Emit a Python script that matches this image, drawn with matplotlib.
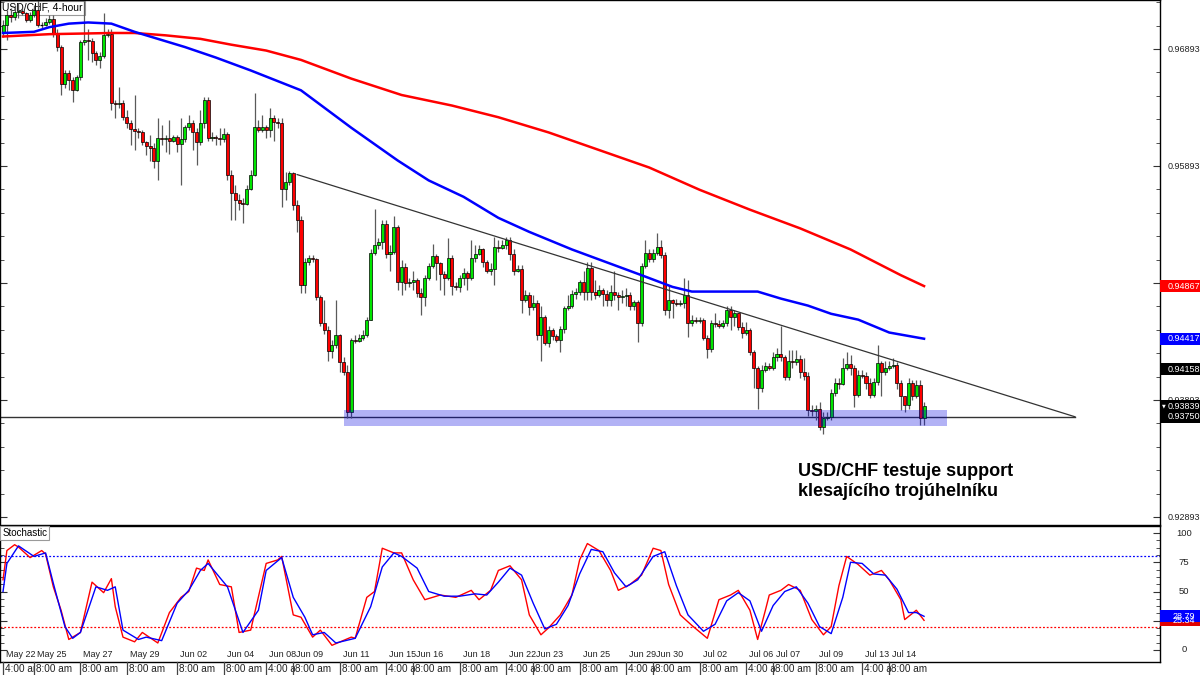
import matplotlib
matplotlib.use("Agg")
import matplotlib.pyplot as plt
import matplotlib.transforms as mtransforms
from matplotlib.patches import Rectangle
import numpy as np

plt.rcParams['font.family'] = ['Liberation Sans', 'DejaVu Sans']

# USD/CHF 4h candles (open of each bar = previous close)
first_open = 0.9704
closes = [0.9710, 0.9718, 0.9717, 0.9721, 0.9722, 0.9720, 0.9714, 0.9718, 0.9723, 0.9710,
          0.9710, 0.9712, 0.9715, 0.9703, 0.9691, 0.9659, 0.9669, 0.9663, 0.9654, 0.9665,
          0.9695, 0.9697, 0.9696, 0.9686, 0.9680, 0.9683, 0.9701, 0.9702, 0.9643, 0.9642,
          0.9643, 0.9631, 0.9626, 0.9621, 0.9619, 0.9618, 0.9610, 0.9606, 0.9605, 0.9594,
          0.9613, 0.9612, 0.9613, 0.9611, 0.9614, 0.9608, 0.9612, 0.9623, 0.9626, 0.9618,
          0.9610, 0.9626, 0.9646, 0.9613, 0.9614, 0.9613, 0.9612, 0.9617, 0.9582, 0.9566,
          0.9560, 0.9558, 0.9557, 0.9570, 0.9582, 0.9623, 0.9620, 0.9623, 0.9620, 0.9630,
          0.9627, 0.9626, 0.9570, 0.9576, 0.9583, 0.9556, 0.9543, 0.9488, 0.9507, 0.9511,
          0.9510, 0.9477, 0.9455, 0.9449, 0.9431, 0.9436, 0.9445, 0.9422, 0.9413, 0.9379,
          0.9441, 0.9440, 0.9442, 0.9445, 0.9458, 0.9515, 0.9522, 0.9524, 0.9540, 0.9514,
          0.9516, 0.9537, 0.9490, 0.9503, 0.9489, 0.9490, 0.9492, 0.9481, 0.9477, 0.9494,
          0.9504, 0.9512, 0.9506, 0.9497, 0.9494, 0.9511, 0.9487, 0.9486, 0.9494, 0.9498,
          0.9494, 0.9511, 0.9514, 0.9518, 0.9507, 0.9500, 0.9501, 0.9520, 0.9519, 0.9522,
          0.9526, 0.9514, 0.9500, 0.9501, 0.9475, 0.9479, 0.9469, 0.9472, 0.9445, 0.9460,
          0.9438, 0.9449, 0.9444, 0.9441, 0.9450, 0.9468, 0.9470, 0.9480, 0.9482, 0.9490,
          0.9482, 0.9502, 0.9482, 0.9479, 0.9483, 0.9480, 0.9475, 0.9482, 0.9479, 0.9477,
          0.9478, 0.9479, 0.9470, 0.9473, 0.9455, 0.9504, 0.9515, 0.9510, 0.9515, 0.9520,
          0.9513, 0.9466, 0.9475, 0.9472, 0.9471, 0.9472, 0.9479, 0.9455, 0.9458, 0.9457,
          0.9458, 0.9442, 0.9433, 0.9455, 0.9454, 0.9453, 0.9455, 0.9466, 0.9460, 0.9464,
          0.9452, 0.9447, 0.9449, 0.9430, 0.9417, 0.9400, 0.9415, 0.9418, 0.9417, 0.9426,
          0.9429, 0.9426, 0.9409, 0.9423, 0.9422, 0.9424, 0.9413, 0.9410, 0.9381, 0.9380,
          0.9382, 0.9366, 0.9374, 0.9375, 0.9395, 0.9404, 0.9403, 0.9417, 0.9420, 0.9417,
          0.9394, 0.9411, 0.9410, 0.9404, 0.9394, 0.9405, 0.9421, 0.9413, 0.9417, 0.9418,
          0.9419, 0.9404, 0.9393, 0.9385, 0.9404, 0.9393, 0.9402, 0.9374, 0.9384]
highs = [0.9714, 0.9723, 0.9724, 0.9727, 0.9729, 0.9724, 0.9721, 0.9721, 0.9727, 0.9731,
         0.9712, 0.9716, 0.9718, 0.9718, 0.9706, 0.9693, 0.9671, 0.9671, 0.9665, 0.9667,
         0.9697, 0.9730, 0.9706, 0.9699, 0.9688, 0.9687, 0.9720, 0.9706, 0.9706, 0.9646,
         0.9657, 0.9646, 0.9637, 0.9629, 0.9650, 0.9622, 0.9620, 0.9611, 0.9616, 0.9609,
         0.9630, 0.9624, 0.9616, 0.9629, 0.9616, 0.9616, 0.9630, 0.9624, 0.9633, 0.9629,
         0.9622, 0.9637, 0.9648, 0.9648, 0.9618, 0.9616, 0.9622, 0.9622, 0.9618, 0.9586,
         0.9573, 0.9565, 0.9562, 0.9573, 0.9586, 0.9652, 0.9629, 0.9633, 0.9624, 0.9639,
         0.9633, 0.9630, 0.9630, 0.9584, 0.9585, 0.9584, 0.9560, 0.9547, 0.9511, 0.9513,
         0.9513, 0.9511, 0.9479, 0.9475, 0.9453, 0.9441, 0.9475, 0.9446, 0.9426, 0.9419,
         0.9442, 0.9445, 0.9446, 0.9449, 0.9460, 0.9518, 0.9553, 0.9528, 0.9543, 0.9543,
         0.9522, 0.9547, 0.9539, 0.9509, 0.9506, 0.9494, 0.9500, 0.9494, 0.9485, 0.9496,
         0.9506, 0.9523, 0.9514, 0.9507, 0.9500, 0.9528, 0.9513, 0.9490, 0.9496, 0.9502,
         0.9500, 0.9526, 0.9522, 0.9522, 0.9519, 0.9509, 0.9506, 0.9529, 0.9526, 0.9526,
         0.9529, 0.9529, 0.9518, 0.9505, 0.9505, 0.9483, 0.9482, 0.9479, 0.9475, 0.9470,
         0.9462, 0.9453, 0.9451, 0.9446, 0.9453, 0.9470, 0.9479, 0.9483, 0.9485, 0.9492,
         0.9500, 0.9507, 0.9507, 0.9492, 0.9488, 0.9485, 0.9483, 0.9488, 0.9500, 0.9482,
         0.9483, 0.9485, 0.9482, 0.9475, 0.9475, 0.9506, 0.9526, 0.9518, 0.9518, 0.9532,
         0.9526, 0.9516, 0.9488, 0.9476, 0.9476, 0.9475, 0.9494, 0.9492, 0.9462, 0.9460,
         0.9460, 0.9459, 0.9445, 0.9458, 0.9464, 0.9458, 0.9458, 0.9470, 0.9470, 0.9466,
         0.9464, 0.9456, 0.9456, 0.9451, 0.9432, 0.9418, 0.9419, 0.9422, 0.9421, 0.9430,
         0.9434, 0.9453, 0.9428, 0.9432, 0.9432, 0.9432, 0.9428, 0.9425, 0.9413, 0.9385,
         0.9385, 0.9388, 0.9379, 0.9379, 0.9399, 0.9408, 0.9408, 0.9425, 0.9430, 0.9428,
         0.9419, 0.9415, 0.9415, 0.9413, 0.9408, 0.9408, 0.9436, 0.9423, 0.9423, 0.9423,
         0.9425, 0.9422, 0.9406, 0.9393, 0.9408, 0.9406, 0.9406, 0.9406, 0.9388]
lows = [0.9700, 0.9697, 0.9712, 0.9714, 0.9716, 0.9718, 0.9712, 0.9712, 0.9717, 0.9708,
        0.9707, 0.9709, 0.9711, 0.9700, 0.9688, 0.9650, 0.9656, 0.9654, 0.9644, 0.9653,
        0.9663, 0.9693, 0.9680, 0.9678, 0.9676, 0.9673, 0.9682, 0.9700, 0.9637, 0.9630,
        0.9639, 0.9629, 0.9622, 0.9607, 0.9603, 0.9613, 0.9607, 0.9599, 0.9594, 0.9588,
        0.9577, 0.9607, 0.9601, 0.9600, 0.9610, 0.9601, 0.9573, 0.9610, 0.9620, 0.9603,
        0.9590, 0.9607, 0.9622, 0.9611, 0.9611, 0.9607, 0.9607, 0.9610, 0.9577, 0.9543,
        0.9543, 0.9552, 0.9541, 0.9556, 0.9569, 0.9581, 0.9618, 0.9618, 0.9613, 0.9614,
        0.9611, 0.9622, 0.9554, 0.9560, 0.9573, 0.9552, 0.9533, 0.9481, 0.9481, 0.9505,
        0.9507, 0.9475, 0.9453, 0.9446, 0.9423, 0.9425, 0.9434, 0.9413, 0.9411, 0.9374,
        0.9374, 0.9438, 0.9439, 0.9441, 0.9443, 0.9458, 0.9513, 0.9518, 0.9518, 0.9511,
        0.9500, 0.9514, 0.9483, 0.9479, 0.9483, 0.9486, 0.9483, 0.9477, 0.9462, 0.9470,
        0.9492, 0.9502, 0.9492, 0.9483, 0.9479, 0.9492, 0.9479, 0.9483, 0.9482, 0.9488,
        0.9483, 0.9492, 0.9507, 0.9513, 0.9503, 0.9498, 0.9496, 0.9488, 0.9516, 0.9518,
        0.9518, 0.9509, 0.9496, 0.9499, 0.9464, 0.9473, 0.9462, 0.9466, 0.9441, 0.9423,
        0.9436, 0.9435, 0.9441, 0.9439, 0.9430, 0.9447, 0.9466, 0.9468, 0.9476, 0.9479,
        0.9475, 0.9475, 0.9475, 0.9476, 0.9477, 0.9470, 0.9470, 0.9470, 0.9475, 0.9466,
        0.9472, 0.9470, 0.9466, 0.9466, 0.9439, 0.9453, 0.9502, 0.9507, 0.9507, 0.9513,
        0.9511, 0.9462, 0.9459, 0.9459, 0.9470, 0.9470, 0.9468, 0.9443, 0.9453, 0.9455,
        0.9455, 0.9441, 0.9425, 0.9430, 0.9452, 0.9451, 0.9451, 0.9453, 0.9449, 0.9453,
        0.9449, 0.9442, 0.9445, 0.9428, 0.9400, 0.9382, 0.9396, 0.9413, 0.9415, 0.9415,
        0.9423, 0.9423, 0.9406, 0.9406, 0.9417, 0.9419, 0.9408, 0.9406, 0.9376, 0.9376,
        0.9372, 0.9364, 0.9360, 0.9372, 0.9372, 0.9393, 0.9399, 0.9402, 0.9415, 0.9411,
        0.9383, 0.9392, 0.9408, 0.9399, 0.9391, 0.9392, 0.9402, 0.9393, 0.9411, 0.9415,
        0.9417, 0.9399, 0.9381, 0.9379, 0.9382, 0.9389, 0.9391, 0.9368, 0.9368]

# moving averages (red = slow, blue = fast), sampled at candle indices
ma_red_idx = [0, 12, 28, 34, 42, 51, 59, 68, 77, 90, 103, 116, 128, 141, 154, 167, 180, 193, 206, 219, 232, 238]
ma_red = [0.9700, 0.9702, 0.9703, 0.9703, 0.9701, 0.9698, 0.9693, 0.9688, 0.9680, 0.9664, 0.9650,
          0.9641, 0.9631, 0.9618, 0.9603, 0.9588, 0.9569, 0.9552, 0.9536, 0.9518, 0.9496, 0.94867]
ma_blue_idx = [0, 8, 12, 17, 22, 28, 34, 38, 47, 55, 64, 77, 90, 102, 110, 119, 128, 136, 147, 156,
               165, 173, 178, 182, 190, 195, 201, 208, 214, 221, 229, 238]
ma_blue = [0.9703, 0.9704, 0.9708, 0.9711, 0.9712, 0.9711, 0.9704, 0.9700, 0.9691, 0.9682, 0.9671,
           0.9654, 0.9622, 0.9594, 0.9577, 0.9563, 0.9545, 0.9533, 0.9518, 0.9507, 0.9496, 0.9486,
           0.9482, 0.9482, 0.9482, 0.9482, 0.9476, 0.9470, 0.9463, 0.9458, 0.9447, 0.94417]

# descending triangle
trend_idx = [76, 277]
trend_px = [0.9582, 0.9375]
support = 0.9375
support_end = 277
zone_idx = [88, 244]
zone_px = [0.9367, 0.9381]

# stochastic
k_idx = [0, 1, 3, 4, 7, 10, 11, 13, 15, 17, 20, 23, 26, 28, 29, 31, 34, 36, 40, 43,
         46, 48, 50, 52, 53, 56, 59, 61, 64, 68, 71, 72, 75, 77, 80, 82, 85, 90, 91, 94,
         96, 98, 101, 103, 106, 109, 113, 117, 121, 123, 126, 128, 131, 134, 136, 139, 141, 144, 147, 149,
         151, 154, 157, 159, 162, 165, 168, 170, 172, 175, 178, 182, 183, 185, 188, 190, 193, 195, 197, 198,
         201, 203, 206, 209, 212, 214, 216, 218, 221, 224, 227, 229, 232, 233, 236, 238]
k_val = [60, 85, 90, 88, 79, 85, 82, 54, 34, 9, 15, 58, 49, 61, 37, 11, 7, 15, 6, 32,
         45, 50, 70, 68, 77, 56, 54, 15, 17, 74, 77, 80, 30, 28, 11, 17, 4, 11, 10, 45,
         50, 87, 83, 83, 60, 43, 47, 45, 51, 43, 51, 68, 72, 60, 30, 13, 19, 30, 47, 77,
         91, 85, 68, 51, 56, 64, 87, 85, 56, 30, 21, 10, 21, 43, 47, 51, 34, 9, 34, 47,
         51, 56, 51, 26, 13, 20, 55, 80, 73, 64, 68, 60, 43, 26, 34, 25.34]
d_idx = [0, 1, 4, 8, 11, 13, 16, 18, 20, 24, 27, 29, 31, 35, 37, 41, 45, 48, 51, 53,
         58, 62, 66, 68, 72, 75, 78, 80, 83, 86, 91, 95, 98, 101, 103, 107, 110, 114, 118, 122,
         125, 128, 131, 134, 137, 140, 143, 146, 149, 152, 155, 158, 161, 164, 168, 171, 174, 177, 181, 184,
         187, 190, 193, 196, 199, 202, 205, 208, 211, 214, 217, 219, 222, 225, 228, 231, 234, 236, 238]
d_val = [50, 74, 89, 80, 83, 57, 20, 10, 15, 54, 51, 54, 17, 9, 11, 8, 40, 51, 68, 74,
         54, 15, 34, 68, 79, 45, 28, 13, 15, 6, 10, 37, 71, 83, 80, 70, 50, 46, 46, 48,
         47, 58, 70, 64, 40, 18, 22, 38, 65, 86, 84, 66, 54, 60, 80, 84, 55, 30, 16, 22,
         42, 49, 42, 16, 38, 50, 54, 40, 20, 14, 45, 75, 74, 65, 64, 52, 32, 32, 28.79]

# time axis
tick_idx = [0, 8, 20, 32, 45, 57, 68, 75, 87, 99, 106, 118, 130, 137, 149, 161, 168, 180, 192, 199, 210, 222, 229]
date_labels = ['May 22', 'May 25', 'May 27', 'May 29', 'Jun 02', 'Jun 04', 'Jun 08', 'Jun 09', 'Jun 11',
               'Jun 15', 'Jun 16', 'Jun 18', 'Jun 22', 'Jun 23', 'Jun 25', 'Jun 29', 'Jun 30', 'Jul 02',
               'Jul 06', 'Jul 07', 'Jul 09', 'Jul 13', 'Jul 14']
time_labels = ['4:00 am', '8:00 am', '8:00 am', '8:00 am', '8:00 am', '8:00 am', '4:00 am', '8:00 am',
               '8:00 am', '4:00 am', '8:00 am', '8:00 am', '4:00 am', '8:00 am', '8:00 am', '4:00 am',
               '8:00 am', '8:00 am', '4:00 am', '8:00 am', '8:00 am', '4:00 am', '8:00 am']

price_ticks = [0.92893, 0.93893, 0.94893, 0.95893, 0.96893]
stoch_ticks = [0, 50, 75, 100]

W, H = 1200, 675
fig = plt.figure(figsize=(12, 6.75), dpi=100, facecolor='white')
ax = fig.add_axes([0, 150 / H, 1160 / W, 525 / H])
ax2 = fig.add_axes([0, 13 / H, 1160 / W, 136 / H], sharex=ax)

xmin, xmax = -0.78, 298.97
ax.set_xlim(xmin, xmax)
ax.set_ylim(0.92825, 0.97312)
ax2.set_ylim(-10.26, 106.0)

for a in (ax, ax2):
    for s in a.spines.values():
        s.set_color('black')
        s.set_linewidth(1)
    a.tick_params(axis='x', which='both', bottom=False, labelbottom=False)
    a.tick_params(axis='y', which='both', left=True, right=True, direction='in',
                  labelleft=False, labelright=False, color='#333333')
    a.tick_params(axis='y', which='major', length=5)
    a.tick_params(axis='y', which='minor', length=3)

ax.set_yticks(price_ticks)
ax.set_yticks(np.arange(0.92893, 0.9731, 0.002), minor=True)
ax2.set_yticks([0, 25, 50, 75, 100])
ax2.set_yticks(np.arange(0, 101, 6.25), minor=True)

# candles
idx = np.arange(len(closes))
c = np.array(closes)
o = np.array([first_open] + closes[:-1])
hi = np.array(highs)
lo = np.array(lows)
ax.vlines(idx, lo, hi, color='#5a5a5a', lw=0.9, zorder=2)
bot = np.minimum(o, c)
ht = np.abs(c - o)
up = c > o
dn = c < o
fl = c == o
ax.bar(idx[up], ht[up], bottom=bot[up], width=0.78, color='#00e600', edgecolor='black', lw=0.5, zorder=3)
ax.bar(idx[dn], ht[dn], bottom=bot[dn], width=0.78, color='#ff0000', edgecolor='black', lw=0.5, zorder=3)
ax.hlines(c[fl], idx[fl] - 0.45, idx[fl] + 0.45, color='black', lw=0.9, zorder=3)

# moving averages
ax.plot(ma_red_idx, ma_red, color='#ff0000', lw=1.8, zorder=4)
ax.plot(ma_blue_idx, ma_blue, color='#0000ff', lw=1.8, zorder=4)

# triangle lines + support zone
ax.plot(trend_idx, trend_px, color='#333333', lw=0.9, zorder=4)
ax.plot([xmin, support_end], [support, support], color='#333333', lw=1.0, zorder=1.8)
ax.add_patch(Rectangle((zone_idx[0], zone_px[0]), zone_idx[1] - zone_idx[0], zone_px[1] - zone_px[0],
                       facecolor='#0000e0', alpha=0.3, edgecolor='none', zorder=5))

# title box
ax.text(0.002, 0.995, 'USD/CHF, 4-hour', transform=ax.transAxes, ha='left', va='top', fontsize=7.5,
        zorder=1.5, bbox=dict(boxstyle='square,pad=0.2', fc='white', ec='#9a9a9a', lw=0.8))

# annotation
fig.text(798 / W, 1 - 463 / H, 'USD/CHF testuje support\nklesajícího trojúhelníku',
         fontsize=13, fontweight='bold', ha='left', va='top', linespacing=1.2, color='black')

# right axis labels and value boxes
tr_main = mtransforms.blended_transform_factory(ax.transAxes, ax.transData)
tr_sto = mtransforms.blended_transform_factory(ax2.transAxes, ax2.transData)
lab_x = 1184 / 1160

for p in price_ticks:
    ax.text(lab_x, p, '%.5f' % p, transform=tr_main, ha='center', va='center', fontsize=6.5,
            color='#222222', clip_on=False, zorder=6)
for v in stoch_ticks:
    ax2.text(lab_x, v, str(v), transform=tr_sto, ha='center', va='center', fontsize=6.8,
             color='#222222', clip_on=False, zorder=6)


def value_box(a, tr, val, txt, color, px_h=12):
    y0, y1 = a.get_ylim()
    h = (y1 - y0) * px_h / a.bbox.height
    a.add_patch(Rectangle((1.0, val - h / 2), 40 / 1160, h, transform=tr, facecolor=color,
                          edgecolor='none', clip_on=False, zorder=7))
    a.text(lab_x, val, txt, transform=tr, ha='center', va='center', fontsize=6.5, color='white',
           clip_on=False, zorder=8)


value_box(ax, tr_main, ma_red[-1], '%.5f' % ma_red[-1], '#ff0000')
value_box(ax, tr_main, ma_blue[-1], '%.5f' % ma_blue[-1], '#0000ff')
value_box(ax, tr_main, 0.94158, '0.94158', 'black')
value_box(ax, tr_main, support, '%.5f' % support, 'black')
value_box(ax, tr_main, 0.93839, '0.93839', 'black')
ax.text(1164 / 1160, 0.93845, '▼', transform=tr_main, ha='center', va='center', fontsize=3.5,
        color='white', clip_on=False, zorder=9, family='DejaVu Sans')

# stochastic panel
ax2.plot(k_idx, k_val, color='#ff0000', lw=1.0, zorder=3)
ax2.plot(d_idx, d_val, color='#0000ff', lw=1.0, zorder=3)
ax2.axhline(80, color='#0000ff', lw=0.9, ls=(0, (1.5, 1.5)), zorder=2)
ax2.axhline(20, color='#ff0000', lw=0.9, ls=(0, (1.5, 1.5)), zorder=2)
ax2.text(0.002, 0.985, 'Stochastic', transform=ax2.transAxes, ha='left', va='top', fontsize=7,
         zorder=6, bbox=dict(boxstyle='square,pad=0.2', fc='white', ec='#9a9a9a', lw=0.8))
value_box(ax2, tr_sto, k_val[-1], '%.2f' % k_val[-1], '#e00000')
value_box(ax2, tr_sto, d_val[-1], '%.2f' % d_val[-1], '#0000ff')

# date / time labels along the bottom
tr_date = mtransforms.offset_copy(mtransforms.blended_transform_factory(ax2.transData, ax2.transAxes),
                                  fig=fig, x=3, y=0, units='dots')
tr_time = mtransforms.offset_copy(mtransforms.blended_transform_factory(ax2.transData, fig.transFigure),
                                  fig=fig, x=2, y=0, units='dots')
tr_sep = mtransforms.blended_transform_factory(ax2.transData, fig.transFigure)
for t, d, tm in zip(tick_idx, date_labels, time_labels):
    ax2.text(t, 0.055, d, transform=tr_date, ha='left', va='center', fontsize=6.5, color='#222222',
             clip_on=False, zorder=6)
    ax2.text(t, 6 / H, tm, transform=tr_time, ha='left', va='center', fontsize=7.2, color='#222222',
             clip_on=False, zorder=6,
             bbox=dict(boxstyle='square,pad=0.05', fc='white', ec='none'))
    ax2.plot([t, t], [0, 13 / H], transform=tr_sep, color='#444444', lw=0.9, clip_on=False, zorder=7)

fig.savefig('out.png', dpi=100, facecolor='white')
